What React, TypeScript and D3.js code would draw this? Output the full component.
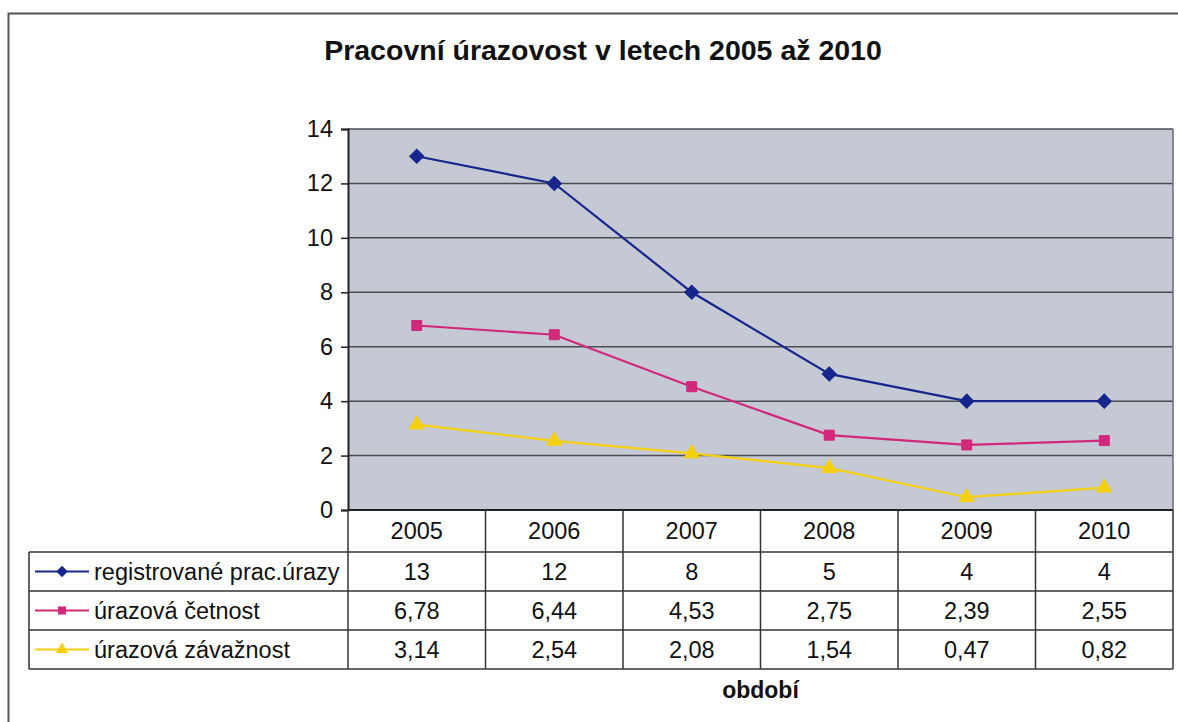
import React, { useEffect, useRef } from "react";
import * as d3 from "d3";

const years = ["2005", "2006", "2007", "2008", "2009", "2010"];
const registrovane = [13, 12, 8, 5, 4, 4];
const cetnost = [6.78, 6.44, 4.53, 2.75, 2.39, 2.55];
const zavaznost = [3.14, 2.54, 2.08, 1.54, 0.47, 0.82];
const seriesNames = ["registrované prac.úrazy", "úrazová četnost", "úrazová závažnost"];
const yTicks = [0, 2, 4, 6, 8, 10, 12, 14];

export default function App() {
  const chartRef = useRef(null);

  useEffect(() => {
    const width = 1178;
    const height = 722;
    const font = "'Liberation Sans', Arial, sans-serif";

    const series = [
      { name: seriesNames[0], values: registrovane, color: "#16268c", shape: d3.symbolSquare, size: 100, rot: 45 },
      { name: seriesNames[1], values: cetnost, color: "#d2287c", shape: d3.symbolSquare, size: 100, rot: 0 },
      { name: seriesNames[2], values: zavaznost, color: "#f4d010", shape: d3.symbolTriangle, size: 100, rot: 0 },
    ];

    // plot area
    const left = 348, right = 1173, top = 129, bottom = 510;
    const x = d3.scaleBand().domain(years).range([left, right]);
    const y = d3.scaleLinear().domain([0, 14]).range([bottom, top]);

    const svg = d3
      .create("svg")
      .attr("width", width)
      .attr("height", height)
      .style("position", "absolute")
      .style("left", 0)
      .style("top", 0)
      .style("background", "#fff")
      .style("font-family", font);

    // outer chart frame (runs off the right and bottom edge)
    svg.append("path")
      .attr("d", `M8.5,${height + 5} L8.5,13.5 L${width + 5},13.5`)
      .attr("fill", "none")
      .attr("stroke", "#555")
      .attr("stroke-width", 2);

    svg.append("text")
      .attr("x", 603)
      .attr("y", 60)
      .attr("text-anchor", "middle")
      .attr("font-size", 28.5)
      .attr("font-weight", "bold")
      .attr("fill", "#111")
      .text("Pracovní úrazovost v letech 2005 až 2010");

    svg.append("rect")
      .attr("x", left)
      .attr("y", top)
      .attr("width", right - left)
      .attr("height", bottom - top)
      .attr("fill", "#c4c9d3");

    // gridlines
    svg.append("g")
      .selectAll("line")
      .data(yTicks.filter((d) => d > 0))
      .join("line")
      .attr("x1", left)
      .attr("x2", right)
      .attr("y1", (d) => y(d))
      .attr("y2", (d) => y(d))
      .attr("stroke", "#4b4d52")
      .attr("stroke-width", 1.5);

    // right plot border
    svg.append("line")
      .attr("x1", right).attr("x2", right)
      .attr("y1", top).attr("y2", bottom)
      .attr("stroke", "#6a6d72")
      .attr("stroke-width", 1.5);

    // y axis
    const yAxis = svg.append("g")
      .attr("transform", `translate(${left},0)`)
      .call(d3.axisLeft(y).tickValues(yTicks).tickSize(7).tickPadding(8));
    yAxis.select(".domain").attr("stroke", "#222").attr("stroke-width", 2);
    yAxis.selectAll(".tick line").attr("stroke", "#222").attr("stroke-width", 1.5);
    yAxis.selectAll("text")
      .attr("font-size", 23.5)
      .attr("font-family", font)
      .attr("fill", "#111");

    // lines and markers
    const line = d3.line<number>()
      .x((d, i) => x(years[i]) + x.bandwidth() / 2)
      .y((d) => y(d));

    series.forEach((s) => {
      svg.append("path")
        .attr("d", line(s.values))
        .attr("fill", "none")
        .attr("stroke", s.color)
        .attr("stroke-width", 2.2);
      svg.append("g")
        .selectAll("path")
        .data(s.values)
        .join("path")
        .attr("transform", (d, i) => `translate(${x(years[i]) + x.bandwidth() / 2},${y(d)}) rotate(${s.rot})`)
        .attr("d", d3.symbol().type(s.shape).size(s.size))
        .attr("fill", s.color)
        .attr("stroke", s.color)
        .attr("stroke-width", 1);
    });

    // data table
    const legendLeft = 29;
    const headerBottom = 552;
    const rowH = 39;
    const tableBottom = headerBottom + rowH * series.length;
    const g = svg.append("g").attr("stroke", "#333").attr("stroke-width", 1.5);

    g.append("line").attr("x1", left).attr("x2", right).attr("y1", bottom).attr("y2", bottom)
      .attr("stroke", "#222").attr("stroke-width", 2);
    d3.range(series.length + 1).forEach((i) => {
      const yy = headerBottom + i * rowH;
      g.append("line").attr("x1", legendLeft).attr("x2", right).attr("y1", yy).attr("y2", yy);
    });
    g.append("line").attr("x1", legendLeft).attr("x2", legendLeft).attr("y1", headerBottom).attr("y2", tableBottom);
    years.forEach((yr) => {
      g.append("line").attr("x1", x(yr)).attr("x2", x(yr)).attr("y1", bottom).attr("y2", tableBottom);
    });
    g.append("line").attr("x1", right).attr("x2", right).attr("y1", bottom).attr("y2", tableBottom);

    // header years
    svg.append("g")
      .selectAll("text")
      .data(years)
      .join("text")
      .attr("x", (d) => x(d) + x.bandwidth() / 2)
      .attr("y", (bottom + headerBottom) / 2 + 8)
      .attr("text-anchor", "middle")
      .attr("font-size", 23.5)
      .attr("fill", "#111")
      .text((d) => d);

    const fmt = (v) => String(v).replace(".", ",");

    series.forEach((s, r) => {
      const cy = headerBottom + r * rowH + rowH / 2;
      svg.append("line")
        .attr("x1", 35).attr("x2", 89)
        .attr("y1", cy).attr("y2", cy)
        .attr("stroke", s.color)
        .attr("stroke-width", 2.2);
      svg.append("path")
        .attr("transform", `translate(62,${cy}) rotate(${s.rot})`)
        .attr("d", d3.symbol().type(s.shape).size(s.size * 0.65))
        .attr("fill", s.color);
      svg.append("text")
        .attr("x", 94)
        .attr("y", cy + 8)
        .attr("font-size", 23.5)
        .attr("fill", "#111")
        .text(s.name);
      svg.append("g")
        .selectAll("text")
        .data(s.values)
        .join("text")
        .attr("x", (d, i) => x(years[i]) + x.bandwidth() / 2)
        .attr("y", cy + 8)
        .attr("text-anchor", "middle")
        .attr("font-size", 23.5)
        .attr("fill", "#111")
        .text((d) => fmt(d));
    });

    svg.append("text")
      .attr("x", (left + right) / 2)
      .attr("y", 698)
      .attr("text-anchor", "middle")
      .attr("font-size", 23)
      .attr("font-weight", "bold")
      .attr("fill", "#111")
      .text("období");

    chartRef.current.innerHTML = "";
    chartRef.current.appendChild(svg.node());
  }, []);

  return <div ref={chartRef} />;
}
